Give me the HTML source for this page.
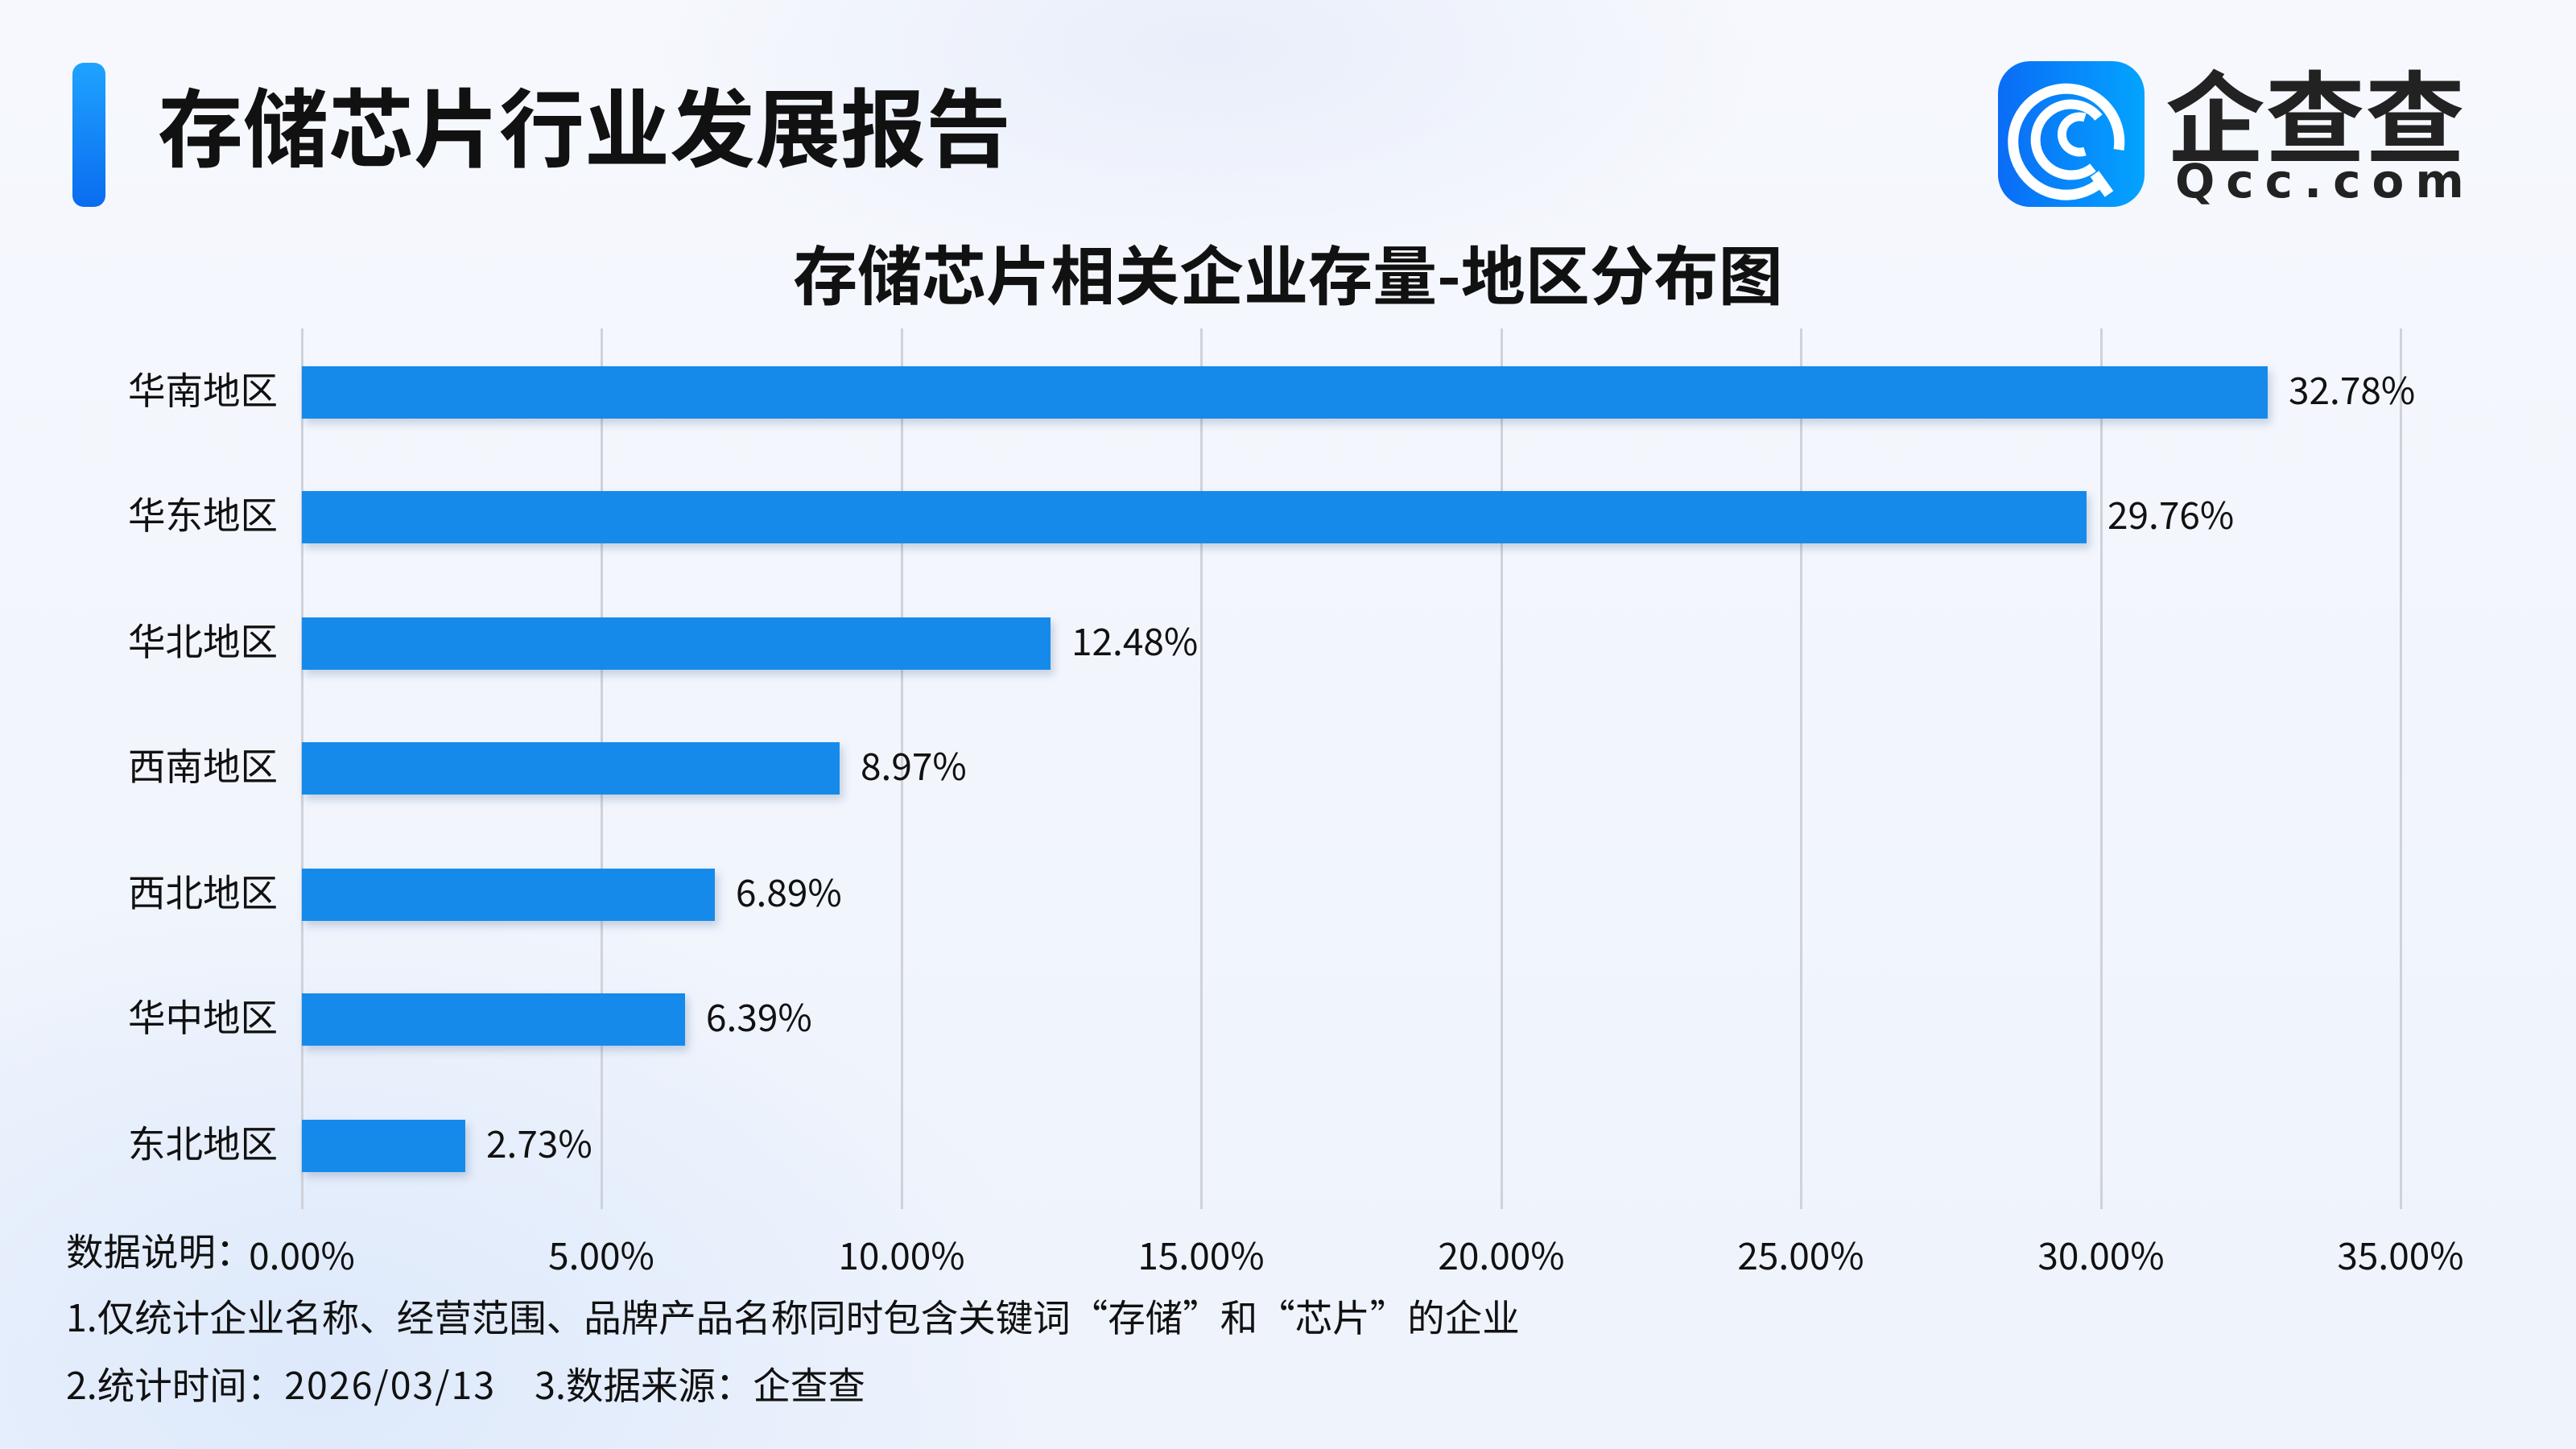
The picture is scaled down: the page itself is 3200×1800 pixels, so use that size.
<!DOCTYPE html>
<html><head><meta charset="utf-8">
<style>
*{margin:0;padding:0;box-sizing:border-box}
body{width:3200px;height:1800px;overflow:hidden;position:relative;
background:radial-gradient(ellipse 900px 600px at 400px 1700px,#dde9fb 0%,rgba(221,233,251,0) 100%),
radial-gradient(ellipse 700px 300px at 1500px 60px,#e9eefa 0%,rgba(233,238,250,0) 100%),
linear-gradient(180deg,#f6f8fd 0%,#eef3fc 100%);
font-family:"Noto Sans CJK SC","Liberation Sans",sans-serif;color:#111}
.a{position:absolute;white-space:nowrap}
.grid{position:absolute;top:408px;height:1094px;width:3px;background:#cfd2d8}
.bar{position:absolute;left:375px;height:65px;background:#168aea;box-shadow:4px 6px 10px rgba(60,90,140,0.25)}
.cat{position:absolute;right:2855px;font-size:46.5px;line-height:64px;height:64px}
.val{position:absolute;font-size:46px;line-height:64px;height:64px}
.tick{position:absolute;top:1528px;font-size:46px;line-height:60px;width:300px;text-align:center}
</style></head><body>
<div class="a" style="left:90px;top:78px;width:41px;height:179px;border-radius:14px;background:linear-gradient(180deg,#1fa3ff,#0a6cf0)"></div>
<div class="a" style="left:196px;top:78px;font-size:106px;font-weight:bold;line-height:150px;color:#111">存储芯片行业发展报告</div>

<div class="a" style="left:2482px;top:76px;width:182px;height:181px;border-radius:40px;background:linear-gradient(90deg,#0a6cf6,#03a4ff)">
<svg width="182" height="181" viewBox="0 0 182 181"><g fill="none" stroke="#fff" stroke-linecap="butt">
<path d="M128 150 A66 66 0 1 1 150 110" stroke-width="13"/>
<path d="M118 132 A44 44 0 1 1 125 70" stroke-width="12"/>
<path d="M108 112 A22 22 0 1 1 108 70" stroke-width="11"/>
<path d="M120 140 L138 165" stroke-width="13"/></g></svg></div>
<div class="a" style="left:2690px;top:58px;font-size:124px;font-weight:bold;line-height:160px;color:#222">企查查</div>
<div class="a" style="left:2702px;top:190px;font-size:58px;line-height:70px;color:#222;letter-spacing:14px;font-weight:bold;font-family:'DejaVu Sans',sans-serif">Qcc.com</div>

<div class="a" style="left:0;width:3200px;text-align:center;top:278px;font-size:80px;font-weight:bold;line-height:120px">存储芯片相关企业存量-地区分布图</div>

<div class="grid" style="left:374px"></div>
<div class="grid" style="left:746px"></div>
<div class="grid" style="left:1119px"></div>
<div class="grid" style="left:1491px"></div>
<div class="grid" style="left:1864px"></div>
<div class="grid" style="left:2236px"></div>
<div class="grid" style="left:2609px"></div>
<div class="grid" style="left:2981px"></div>

<div class="bar" style="top:455px;width:2442px"></div>
<div class="bar" style="top:610px;width:2217px"></div>
<div class="bar" style="top:767px;width:930px"></div>
<div class="bar" style="top:922px;width:668px"></div>
<div class="bar" style="top:1079px;width:513px"></div>
<div class="bar" style="top:1234px;width:476px"></div>
<div class="bar" style="top:1391px;width:203px"></div>

<div class="cat" style="top:451px">华南地区</div>
<div class="cat" style="top:606px">华东地区</div>
<div class="cat" style="top:763px">华北地区</div>
<div class="cat" style="top:918px">西南地区</div>
<div class="cat" style="top:1075px">西北地区</div>
<div class="cat" style="top:1230px">华中地区</div>
<div class="cat" style="top:1387px">东北地区</div>

<div class="val" style="top:451px;left:2843px">32.78%</div>
<div class="val" style="top:606px;left:2618px">29.76%</div>
<div class="val" style="top:763px;left:1331px">12.48%</div>
<div class="val" style="top:918px;left:1069px">8.97%</div>
<div class="val" style="top:1075px;left:914px">6.89%</div>
<div class="val" style="top:1230px;left:877px">6.39%</div>
<div class="val" style="top:1387px;left:604px">2.73%</div>

<div class="tick" style="left:225px">0.00%</div>
<div class="tick" style="left:597px">5.00%</div>
<div class="tick" style="left:970px">10.00%</div>
<div class="tick" style="left:1342px">15.00%</div>
<div class="tick" style="left:1715px">20.00%</div>
<div class="tick" style="left:2087px">25.00%</div>
<div class="tick" style="left:2460px">30.00%</div>
<div class="tick" style="left:2832px">35.00%</div>

<div class="a" style="left:82px;top:1523px;font-size:46.5px;line-height:60px">数据说明：</div>
<div class="a" style="left:82px;top:1605px;font-size:46.5px;line-height:60px">1.仅统计企业名称、经营范围、品牌产品名称同时包含关键词“存储”和“芯片”的企业</div>
<div class="a" style="left:82px;top:1689px;font-size:46.5px;line-height:60px">2.统计时间：<span style="letter-spacing:2px">2026/03/13</span><span style="margin-left:48px">3.数据来源：企查查</span></div>
</body></html>
